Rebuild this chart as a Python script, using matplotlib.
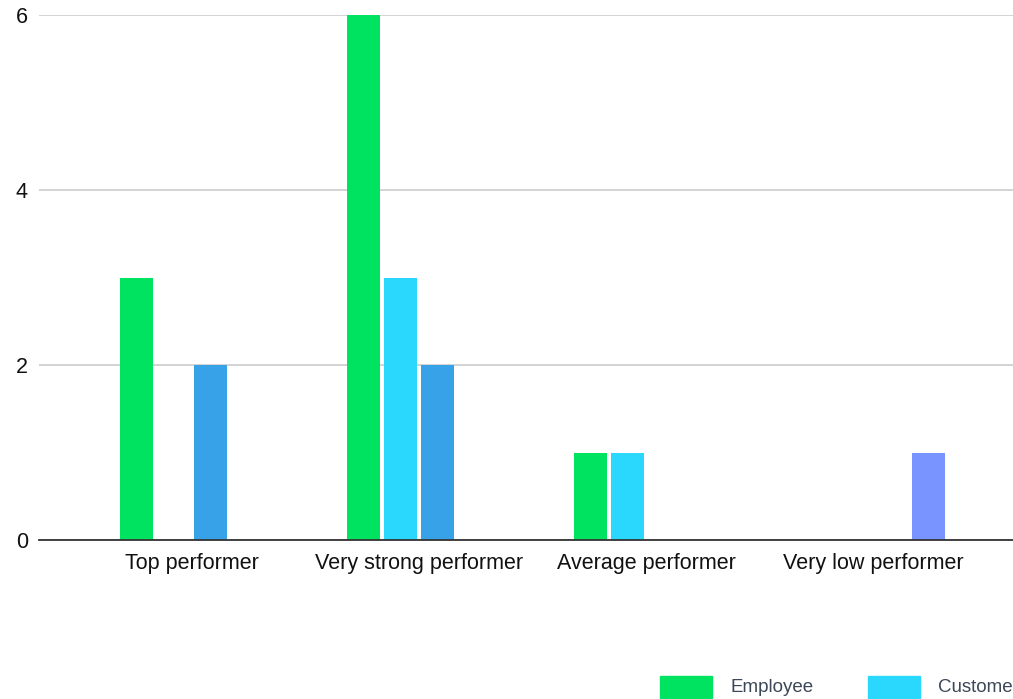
import matplotlib.pyplot as plt
from matplotlib.patches import Rectangle
import numpy as np

categories = ['Top performer', 'Very strong performer', 'Average performer', 'Very low performer']
series_names = ['Employee', 'Customer', 'Manager', 'Peer']
employee = [3, 6, 1, 0]
customer = [0, 3, 1, 0]
manager = [2, 2, 0, 0]
peer = [0, 0, 0, 1]
colors = ['#00e361', '#2ad8fe', '#38a2e8', '#7a94ff']

plt.rcParams['font.family'] = ['Liberation Sans', 'DejaVu Sans']

W, H = 1013, 699
fig = plt.figure(figsize=(W / 100, H / 100), dpi=100)
ax = fig.add_axes([39 / W, 159 / H, 987 / W, 525 / H])

x = np.arange(len(categories))
pitch = 37 / 227
width = 33 / 227
for i, vals in enumerate([employee, customer, manager, peer]):
    ax.bar(x + (i - 1.5) * pitch, vals, width=width, color=colors[i], zorder=3)

ax.set_xlim(-0.674, 3.674)
ax.set_ylim(0, 6)
ax.set_yticks([0, 2, 4, 6])
ax.set_xticks(x)
ax.set_xticklabels(categories)
ax.tick_params(axis='both', length=0, labelsize=15.5, colors='#111111')
ax.tick_params(axis='x', pad=9)
ax.tick_params(axis='y', pad=8)
ax.grid(axis='y', color='#cccccc', linewidth=1.2, zorder=0)
for s in ['top', 'right', 'left']:
    ax.spines[s].set_visible(False)
ax.spines['bottom'].set_color('#333333')
ax.spines['bottom'].set_linewidth(1.3)
ax.spines['bottom'].set_zorder(4)

# legend along the bottom, running off the right edge like the original
for i, name in enumerate(series_names):
    x0 = 660 + 208 * i
    fig.patches.append(Rectangle((x0 / W, 1 / H), 52 / W, 22 / H,
                                 transform=fig.transFigure, color=colors[i]))
    fig.text((x0 + 70) / W, 11 / H, name, fontsize=13.5, color='#3c4858', va='center')

fig.savefig('out.png', dpi=100)
